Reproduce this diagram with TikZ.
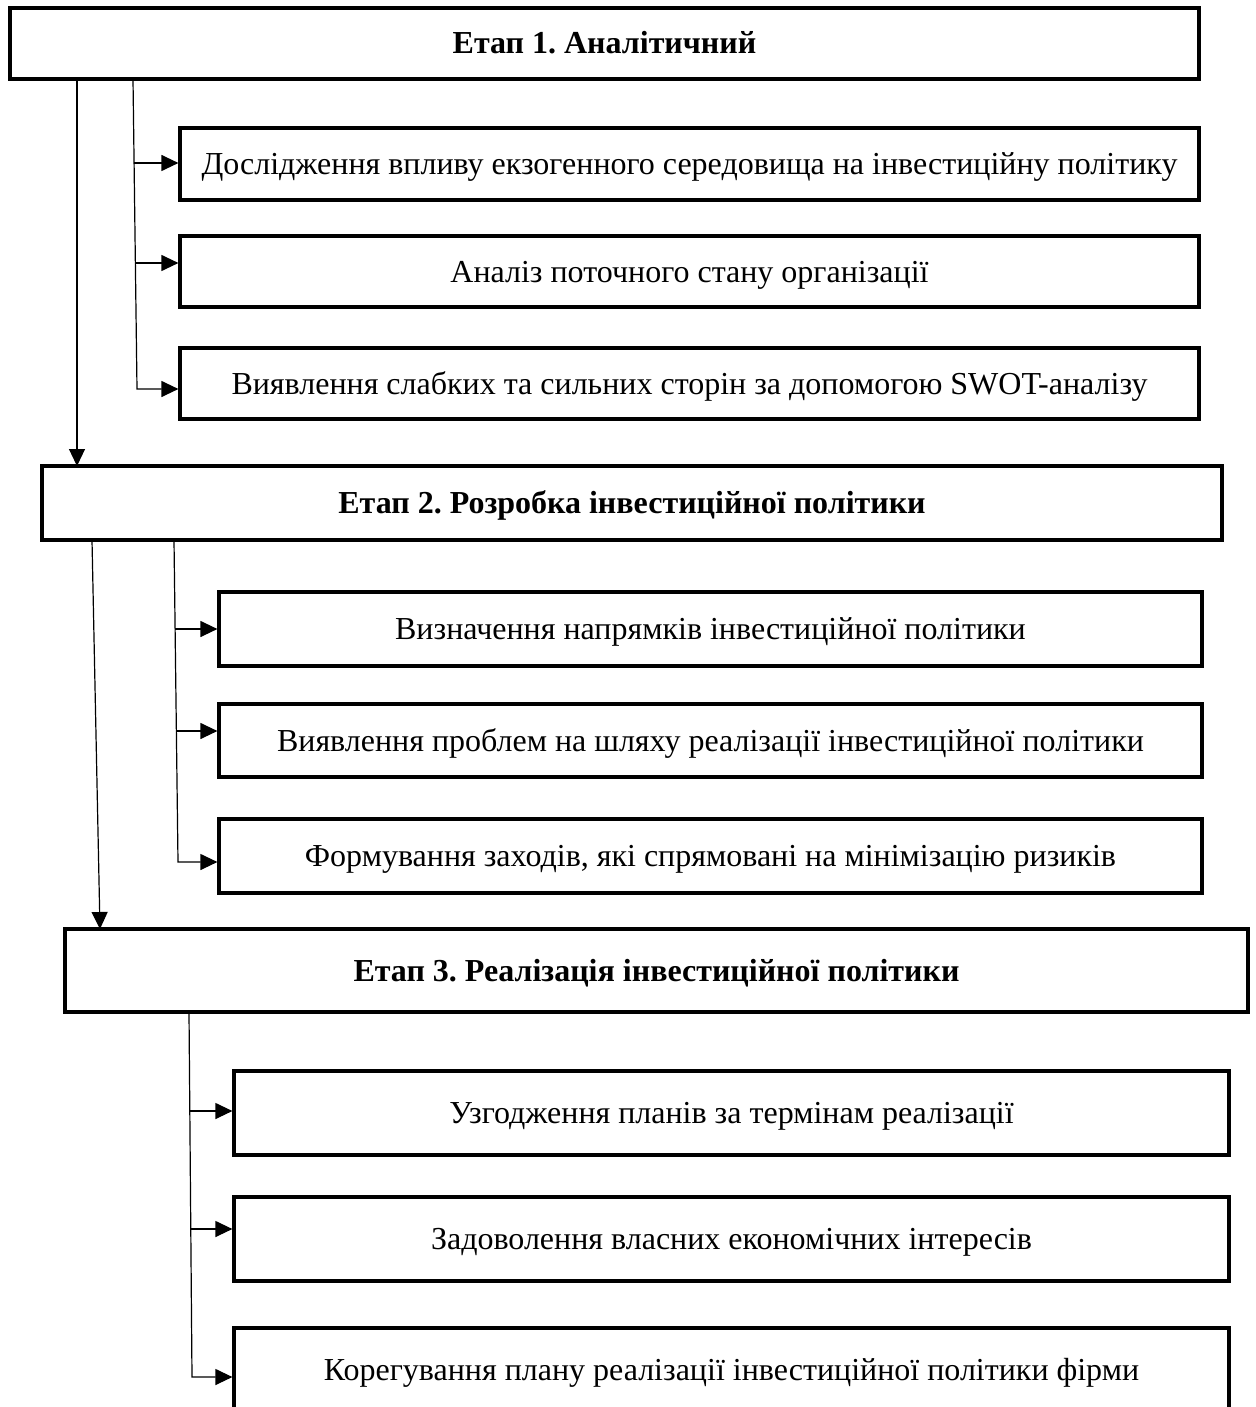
\documentclass[tikz,border=0pt]{standalone}
\usepackage{fontspec}
\setmainfont{Liberation Serif}
\usetikzlibrary{arrows.meta}
\frenchspacing
\newcommand{\px}{0.5pt}
\tikzstyle{etap}=[draw,line width=1.6pt,font=\fontsize{16}{19}\selectfont\bfseries,inner sep=0pt,text height=10.5pt,text depth=0pt]
\tikzstyle{krok}=[draw,line width=1.6pt,font=\fontsize{16}{19}\selectfont,inner sep=0pt,text height=10.5pt,text depth=0pt]
\tikzstyle{link}=[line width=0.6pt,-{Triangle[length=8.5pt,width=8pt]}]
\begin{document}
\begin{tikzpicture}[x=0.5pt,y=-0.5pt]
  \useasboundingbox (0,0) rectangle (1256,1407);
  % etap 1
  \node[etap,minimum width=1189*\px,minimum height=71*\px] (E1) at (604.5,43.5) {Етап 1. Аналітичний};
  \node[krok,minimum width=1019*\px,minimum height=72*\px] (K11) at (689.5,164) {Дослідження впливу екзогенного середовища на інвестиційну політику};
  \node[krok,minimum width=1019*\px,minimum height=71*\px] (K12) at (689.5,271.5) {Аналіз поточного стану організації};
  \node[krok,minimum width=1019*\px,minimum height=71*\px] (K13) at (689.5,383.5) {Виявлення слабких та сильних сторін за допомогою SWOT-аналізу};
  % etap 2
  \node[etap,minimum width=1180*\px,minimum height=74*\px] (E2) at (632,503) {Етап 2. Розробка інвестиційної політики};
  \node[krok,minimum width=983*\px,minimum height=74*\px] (K21) at (710.5,629) {Визначення напрямків інвестиційної політики};
  \node[krok,minimum width=983*\px,minimum height=73*\px] (K22) at (710.5,740.5) {Виявлення проблем на шляху реалізації інвестиційної політики};
  \node[krok,minimum width=983*\px,minimum height=74*\px] (K23) at (710.5,856) {Формування заходів, які спрямовані на мінімізацію ризиків};
  % etap 3
  \node[etap,minimum width=1183*\px,minimum height=83*\px] (E3) at (656.5,970.5) {Етап 3. Реалізація інвестиційної політики};
  \node[krok,minimum width=995*\px,minimum height=84*\px] (K31) at (731.5,1113) {Узгодження планів за термінам реалізації};
  \node[krok,minimum width=995*\px,minimum height=84*\px] (K32) at (731.5,1239) {Задоволення власних економічних інтересів};
  \node[krok,minimum width=995*\px,minimum height=84*\px] (K33) at (731.5,1370) {Корегування плану реалізації інвестиційної політики фірми};
  % spines
  \coordinate (t1) at (77,79);    \coordinate (e2) at (77,466);
  \coordinate (u1) at (133,79);   \coordinate (c11) at (134,163);
  \coordinate (c12) at (135,263); \coordinate (c13) at (137,389);
  \coordinate (t2) at (92,540);   \coordinate (e3) at (100,929);
  \coordinate (u2) at (174,540);  \coordinate (c21) at (175,629);
  \coordinate (c22) at (176,731); \coordinate (c23) at (178,862);
  \coordinate (u3) at (189,1012); \coordinate (c31) at (190,1111);
  \coordinate (c32) at (191,1229); \coordinate (c33) at (192,1377);
  \draw[link] (t1) -- (e2);
  \draw[link] (u1) -- (c13) -- (c13 -| K13.west);
  \draw[link] (c11) -- (c11 -| K11.west);
  \draw[link] (c12) -- (c12 -| K12.west);
  \draw[link] (t2) -- (e3);
  \draw[link] (u2) -- (c23) -- (c23 -| K23.west);
  \draw[link] (c21) -- (c21 -| K21.west);
  \draw[link] (c22) -- (c22 -| K22.west);
  \draw[link] (u3) -- (c33) -- (c33 -| K33.west);
  \draw[link] (c31) -- (c31 -| K31.west);
  \draw[link] (c32) -- (c32 -| K32.west);
\end{tikzpicture}
\end{document}
